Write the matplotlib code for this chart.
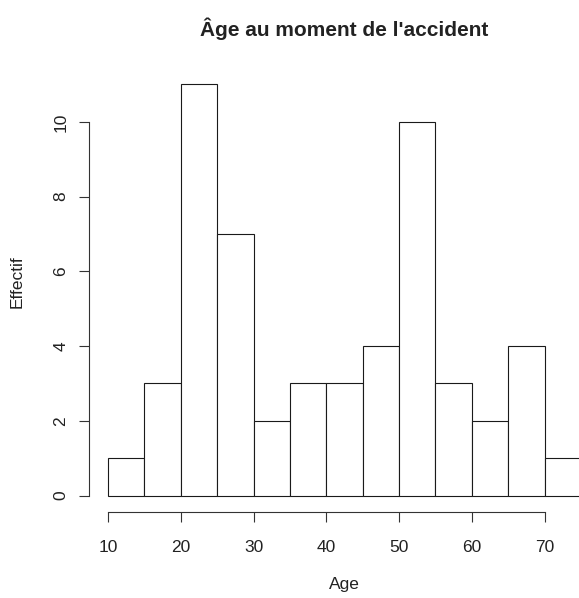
import matplotlib.pyplot as plt

# histogram of ages (bins of 5 years)
bin_edges = [10, 15, 20, 25, 30, 35, 40, 45, 50, 55, 60, 65, 70, 75]
counts = [1, 3, 11, 7, 2, 3, 3, 4, 10, 3, 2, 4, 1]
x_ticks = [10, 20, 30, 40, 50, 60, 70]
y_ticks = [0, 2, 4, 6, 8, 10]

plt.rcParams['font.family'] = ['Liberation Sans', 'DejaVu Sans']

W, H = 579, 598
fig = plt.figure(figsize=(W / 100, H / 100), dpi=100)

# plot region like R's, the right part falls outside the picture
left, right, bottom, top = 89, 600, 512, 68
ax = fig.add_axes([left / W, (H - bottom) / H, (right - left) / W, (bottom - top) / H])

lefts = bin_edges[:-1]
widths = [b - a for a, b in zip(bin_edges[:-1], bin_edges[1:])]
ax.bar(lefts, counts, width=widths, align='edge', facecolor='white',
       edgecolor='#1a1a1a', linewidth=0.8)

# R pads the ranges by 4%
xr = bin_edges[-1] - bin_edges[0]
ax.set_xlim(bin_edges[0] - 0.04 * xr, bin_edges[-1] + 0.04 * xr)
yr = max(counts)
ax.set_ylim(-0.04 * yr, yr * 1.04)

for s in ['top', 'right']:
    ax.spines[s].set_visible(False)
ax.spines['left'].set_bounds(y_ticks[0], y_ticks[-1])
ax.spines['bottom'].set_bounds(x_ticks[0], x_ticks[-1])
for s in ['left', 'bottom']:
    ax.spines[s].set_linewidth(0.8)
    ax.spines[s].set_color('#333333')

ax.set_xticks(x_ticks)
ax.set_yticks(y_ticks)
ax.tick_params(axis='both', direction='out', length=7, width=0.8, labelsize=12.5,
               colors='#333333', labelcolor='#222222')
ax.tick_params(axis='x', pad=13)
ax.tick_params(axis='y', pad=8)
for lab in ax.get_yticklabels():
    lab.set_rotation(90)
    lab.set_va('center')

fig.text(344 / W, 1 - 29 / H, "Âge au moment de l'accident", ha='center', va='center',
         fontsize=15, fontweight='bold', color='#222222')
fig.text(344 / W, 1 - 584 / H, 'Age', ha='center', va='center', fontsize=12.5, color='#222222')
fig.text(17.5 / W, 1 - 282 / H, 'Effectif', ha='center', va='center', rotation=90,
         fontsize=12.5, color='#222222')

fig.savefig('out.png', dpi=100)
